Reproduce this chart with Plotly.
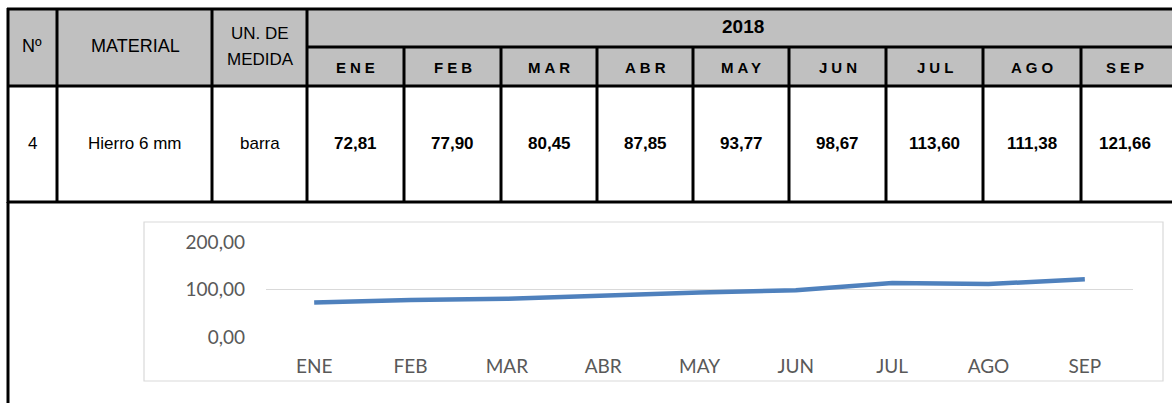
import plotly.graph_objects as go

W, H = 1172, 403

year = "2018"
months = ["ENE", "FEB", "MAR", "ABR", "MAY", "JUN", "JUL", "AGO", "SEP"]
values = [72.81, 77.90, 80.45, 87.85, 93.77, 98.67, 113.60, 111.38, 121.66]
item_no = "4"
material = "Hierro 6 mm"
unit = "barra"
y_ticks = [0, 100, 200]


def px(x):
    return x / W


def py(y):
    return 1 - y / H


fig = go.Figure()

fig.add_trace(go.Scatter(
    x=months, y=values, mode="lines",
    line=dict(color="#4F81BD", width=4.5, shape="linear"),
    hoverinfo="skip", showlegend=False,
))

shapes = []
shapes.append(dict(type="rect", xref="paper", yref="paper",
                   x0=px(8), x1=px(1180), y0=py(86), y1=py(9),
                   fillcolor="#C0C0C0", line=dict(width=0), layer="below"))


def hline(y, x0, x1, w=3):
    shapes.append(dict(type="line", xref="paper", yref="paper",
                       x0=px(x0), x1=px(x1), y0=py(y), y1=py(y),
                       line=dict(color="black", width=w)))


def vline(x, y0, y1, w=3):
    shapes.append(dict(type="line", xref="paper", yref="paper",
                       x0=px(x), x1=px(x), y0=py(y0), y1=py(y1),
                       line=dict(color="black", width=w)))


hline(9, 7, 1180)
hline(47, 307, 1180)
hline(86, 7, 1180)
hline(202, 7, 1180)
for x in [8, 57, 212, 307]:
    vline(x, 8, 203)
vline(8, 202, 403)
month_edges = [307, 404, 501, 597, 693, 789, 886, 983, 1081, 1168]
for x in month_edges[1:-1]:
    vline(x, 47, 203)

shapes.append(dict(type="rect", xref="paper", yref="paper",
                   x0=px(144), x1=px(1163), y0=py(381), y1=py(222),
                   line=dict(color="#D9D9D9", width=1.2), fillcolor="rgba(0,0,0,0)",
                   layer="below"))

annotations = []
TF = "Liberation Sans, Arial, sans-serif"


def text(x, y, s, size=15, bold=False, spacing=None):
    t = f"<b>{s}</b>" if bold else s
    if spacing is not None:
        t = f'<span style="letter-spacing:{spacing}px">{t}</span>'
    annotations.append(dict(xref="paper", yref="paper", x=px(x), y=py(y),
                            text=t, showarrow=False,
                            xanchor="center", yanchor="middle",
                            font=dict(family=TF, size=size, color="black")))


text(32, 46, "Nº", size=18)
text(135, 46, "MATERIAL", size=18)
text(260, 33, "UN. DE", size=17)
text(260, 60, "MEDIDA", size=17)
text(743, 27, year, size=19, bold=True)
for i, m in enumerate(months):
    cx = (month_edges[i] + month_edges[i + 1]) / 2
    text(cx + 2, 67, m, size=15, bold=True, spacing=4)
    text(cx, 143, f"{values[i]:.2f}".replace(".", ","), size=17, bold=True)
text(32, 143, item_no, size=17)
text(135, 143, material, size=17)
text(260, 143, unit, size=17)

CF = dict(family="Lato, Noto Sans, sans-serif", size=19, color="#595959")

fig.update_layout(
    width=W, height=H, autosize=False,
    margin=dict(l=0, r=0, t=0, b=0, pad=0, autoexpand=False),
    paper_bgcolor="white", plot_bgcolor="white",
    separators=",.",
    shapes=shapes, annotations=annotations,
    xaxis=dict(domain=[px(266), px(1133)], type="category",
               range=[-0.5, len(months) - 0.5], automargin=False,
               showgrid=False, zeroline=False, showline=False, ticks="",
               tickfont=CF, ticklabelstandoff=16),
    yaxis=dict(domain=[py(337), py(242)], range=[0, 200], automargin=False,
               tickvals=y_ticks, tickformat=".2f",
               showgrid=True, gridcolor="#D9D9D9", gridwidth=1.3,
               zeroline=False, showline=False, ticks="",
               tickfont=CF, ticklabelstandoff=20),
)

fig.write_html("out.html", config={"displayModeBar": False, "responsive": False},
               post_script="document.body.style.margin='0';document.body.style.overflow='hidden';")
